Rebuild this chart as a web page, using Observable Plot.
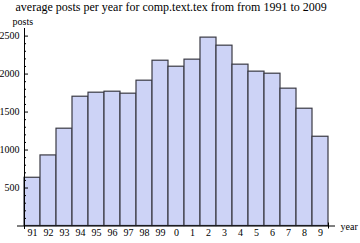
<!DOCTYPE html>
<html>
<head>
<meta charset="utf-8">
<script src="https://cdn.jsdelivr.net/npm/d3@7"></script>
<script src="https://cdn.jsdelivr.net/npm/@observablehq/plot@0.6"></script>
<style>
  html, body { margin: 0; padding: 0; background: #fff; }
</style>
</head>
<body>
<div id="chart"></div>
<script>
const years = ["91","92","93","94","95","96","97","98","99","0","1","2","3","4","5","6","7","8","9"];
const posts = [635, 929, 1281, 1702, 1755, 1768, 1742, 1913, 2176, 2097, 2190, 2480, 2374, 2124, 2032, 2005, 1808, 1544, 1175];
const yMajor = [500, 1000, 1500, 2000, 2500];
const yMinor = d3.range(100, 2600, 100).filter(v => v % 500 !== 0);
const title = "average posts per year for comp.text.tex from from 1991 to 2009";

const data = years.map((y, i) => ({label: y, i, value: posts[i]}));
const font = "Liberation Serif, Times New Roman, serif";

const chart = Plot.plot({
  width: 360,
  height: 243,
  marginLeft: 24,
  marginRight: 32,
  marginTop: 28,
  marginBottom: 17.5,
  style: {fontFamily: font, fontSize: "10px", background: "#fff", overflow: "visible"},
  x: {type: "linear", domain: [0, years.length], axis: null},
  y: {domain: [0, 2600], axis: null},
  marks: [
    Plot.rectY(data, {x1: "i", x2: d => d.i + 1, y: "value", fill: "#cdd3f6", stroke: "#3a3a44", strokeWidth: 1.2}),
    Plot.ruleY([0], {stroke: "#000", insetLeft: -7, insetRight: -7}),
    Plot.ruleX([0], {stroke: "#000", insetBottom: -3.5}),
    Plot.ruleX([years.length], {y1: 0, y2: 0, stroke: "#000", insetTop: -3, insetBottom: -3}),
    Plot.axisY({ticks: yMajor, tickSize: 4, dx: 4, tickFormat: () => "", label: null, stroke: "#000"}),
    Plot.axisY({ticks: yMinor, tickSize: 2, dx: 2, tickFormat: () => "", label: null, stroke: "#000"}),
    Plot.axisY({ticks: yMajor, tickSize: 0, tickPadding: 5, tickFormat: d => String(d), label: null, fill: "#000", fontSize: 10}),
    Plot.text(data, {x: d => d.i + 0.5, text: "label", frameAnchor: "bottom", dy: 7, lineAnchor: "middle", fill: "#000", fontSize: 10}),
    Plot.text(["year"], {frameAnchor: "bottom-right", dx: 12, dy: 1, textAnchor: "start", lineAnchor: "middle", fill: "#000", fontSize: 10}),
    Plot.text(["posts"], {frameAnchor: "top-left", dx: -12, dy: -7, textAnchor: "start", lineAnchor: "middle", fill: "#000", fontSize: 10}),
    Plot.text([title], {frameAnchor: "top-left", dx: -9, dy: -21, textAnchor: "start", lineAnchor: "middle", fill: "#000", fontSize: 12})
  ]
});
document.getElementById("chart").appendChild(chart);
</script>
</body>
</html>
